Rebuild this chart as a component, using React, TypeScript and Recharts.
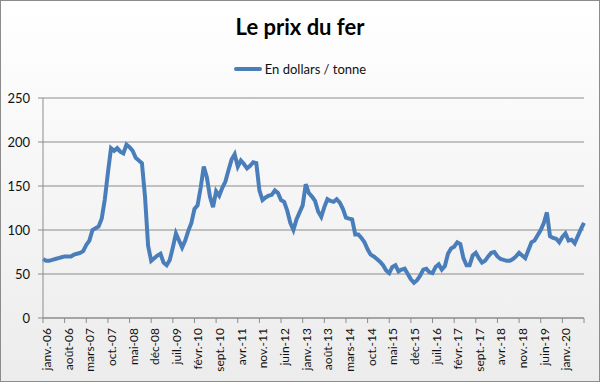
import React from 'react';
import { LineChart, Line, XAxis, YAxis, CartesianGrid } from 'recharts';

// abréviations des mois telles qu'affichées sur l'axe
const moisAbr = ['janv.', 'févr.', 'mars', 'avr.', 'mai', 'juin', 'juil.', 'août', 'sept.', 'oct.', 'nov.', 'déc'];

// prix mensuel du minerai de fer, en dollars / tonne (janv. 2006 -> août 2020)
const prixFer = [
  67, 65, 65, 66, 67, 68, 69, 70, 70, 70, 72, 73, // 2006
  74, 76, 83, 88, 100, 102, 104, 113, 135, 165, 193, 190, // 2007
  193, 189, 187, 197, 194, 190, 182, 179, 176, 138, 82, 65, // 2008
  68, 71, 73, 63, 60, 66, 80, 96, 88, 80, 88, 99, // 2009
  108, 124, 128, 148, 172, 160, 138, 126, 144, 139, 148, 155, // 2010
  168, 180, 186, 172, 179, 175, 170, 173, 177, 176, 145, 134, // 2011
  137, 139, 140, 145, 142, 134, 132, 122, 108, 100, 112, 120, // 2012
  128, 152, 142, 138, 133, 121, 115, 126, 135, 133, 132, 135, // 2013
  131, 124, 114, 113, 112, 95, 95, 91, 86, 78, 72, 70, // 2014
  67, 64, 60, 54, 51, 58, 60, 53, 55, 56, 50, 44, // 2015
  40, 43, 48, 55, 56, 52, 51, 58, 61, 55, 59, 73, // 2016
  79, 81, 86, 84, 68, 60, 60, 71, 74, 68, 63, 65, // 2017
  70, 74, 75, 70, 67, 66, 65, 65, 67, 70, 74, 71, // 2018
  68, 77, 86, 88, 94, 100, 108, 120, 93, 91, 90, 86, // 2019
  92, 96, 88, 89, 85, 93, 101, 108, // 2020
];

const yTicks = [0, 50, 100, 150, 200, 250];

const data = prixFer.map((prix, i) => ({
  mois: `${moisAbr[i % 12]}-${String(6 + Math.floor(i / 12)).padStart(2, '0')}`,
  prix,
}));

const FONT = 'Lato, "Open Sans", sans-serif';
const BLEU = '#4a7ebb';

function MoisTick(props: any) {
  const { x, y, payload } = props;
  // le dernier repère n'a pas d'étiquette
  if (payload.index === data.length - 1) return null;
  return (
    <g transform={`translate(${x},${y})`}>
      <text transform="rotate(-90)" x={-3} dy={8} textAnchor="end" fontSize={12} fill="#111" fontFamily={FONT}>
        {payload.value}
      </text>
    </g>
  );
}

export default function App() {
  return (
    <div
      style={{
        position: 'absolute',
        left: 0,
        top: 0,
        width: 598,
        height: 380,
        border: '1px solid #8c8c8c',
        background: 'linear-gradient(#ffffff, #ececec)',
      }}
    >
      <div
        style={{
          position: 'absolute',
          top: 12,
          width: '100%',
          textAlign: 'center',
          fontFamily: FONT,
          fontWeight: 700,
          fontSize: 22,
          color: '#000',
        }}
      >
        Le prix du fer
      </div>
      <div
        style={{
          position: 'absolute',
          top: 60,
          width: '100%',
          display: 'flex',
          justifyContent: 'center',
          alignItems: 'center',
          fontFamily: FONT,
          fontSize: 13,
          color: '#111',
        }}
      >
        <span style={{ display: 'inline-block', width: 28, height: 4, borderRadius: 2, background: BLEU, marginRight: 3 }} />
        En dollars / tonne
      </div>
      <LineChart width={598} height={380} data={data} margin={{ top: 97, right: 15, bottom: 0, left: 7 }}>
        <CartesianGrid vertical={false} stroke="#8c8c8c" />
        <XAxis
          dataKey="mois"
          interval={6}
          tick={<MoisTick />}
          tickSize={5}
          height={63}
          stroke="#8c8c8c"
        />
        <YAxis
          domain={[0, 250]}
          ticks={yTicks}
          width={35}
          tickSize={5}
          tickMargin={8}
          stroke="#8c8c8c"
          tick={{ fill: '#111', fontSize: 13, fontFamily: FONT }}
        />
        <Line
          type="linear"
          dataKey="prix"
          name="En dollars / tonne"
          stroke={BLEU}
          strokeWidth={4}
          dot={false}
          isAnimationActive={false}
        />
      </LineChart>
    </div>
  );
}
